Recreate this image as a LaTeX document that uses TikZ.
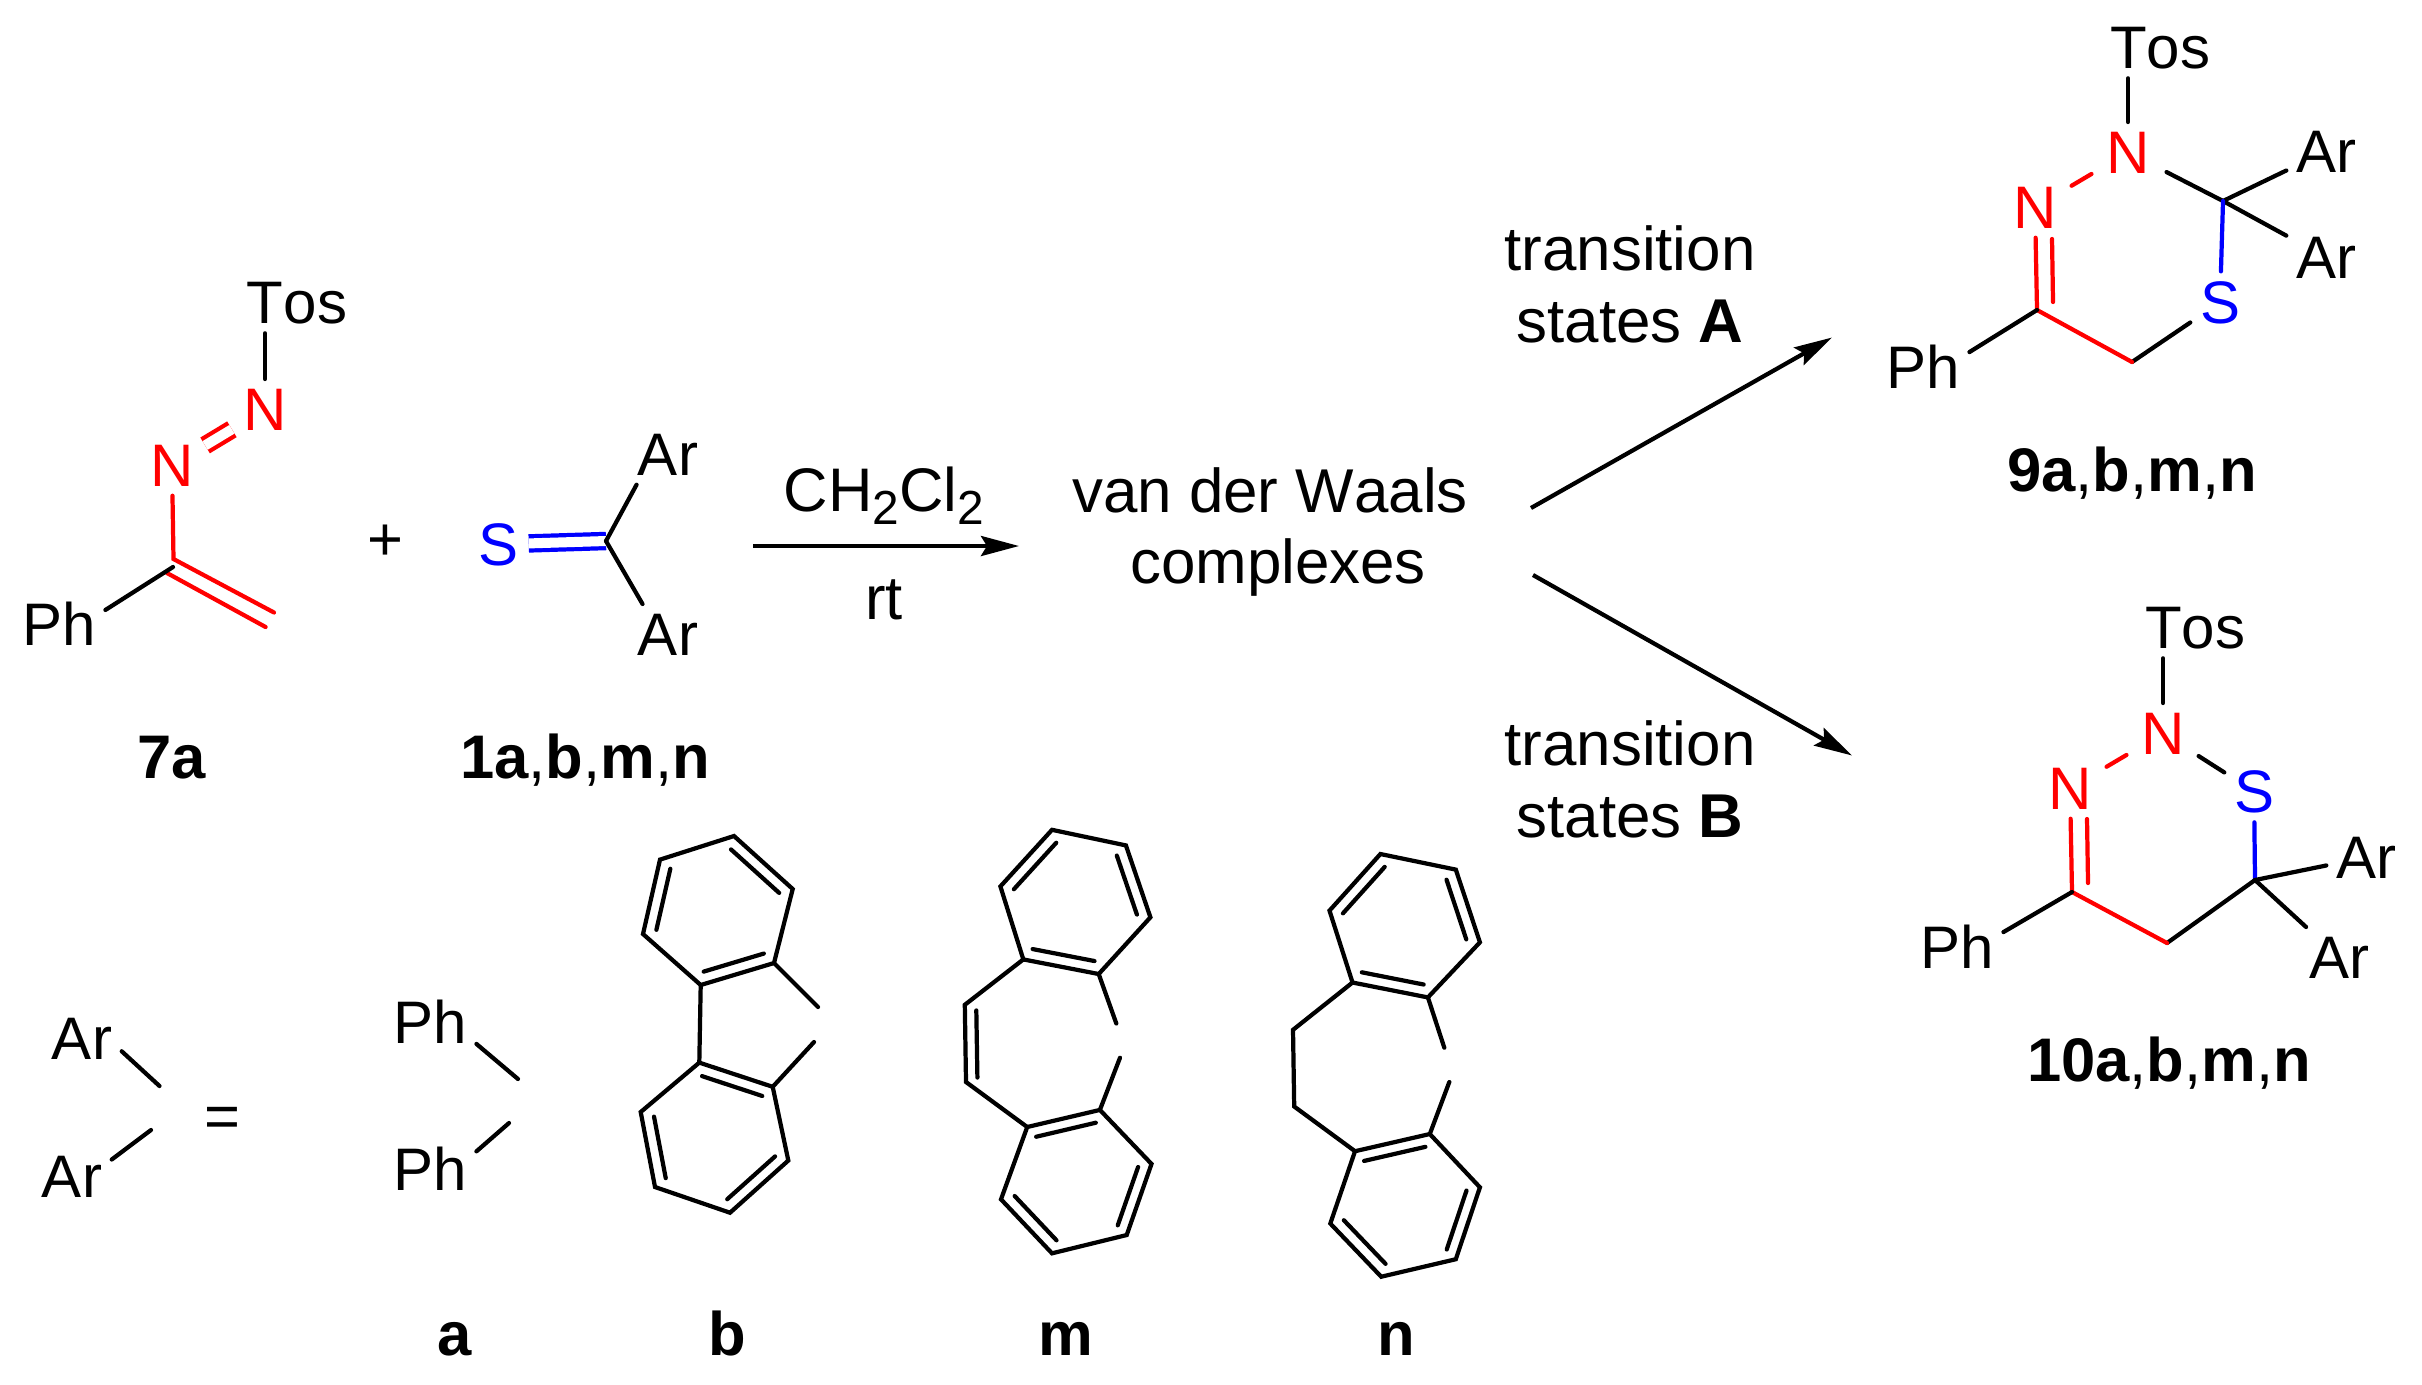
\documentclass[tikz,border=0pt]{standalone}
\usepackage{fontspec}
\setmainfont[Kerning=Off]{Liberation Sans}
\usetikzlibrary{positioning,calc,arrows.meta}
\definecolor{atomred}{RGB}{255,0,0}
\definecolor{atomblue}{RGB}{0,0,255}
\newcommand{\subnum}[1]{\raisebox{-0.13cm}{\fontsize{13.6}{13.6}\selectfont #1}}
\newcommand{\ringdbl}[3]{\draw[bond] ($(#1)!0.18!(#3)$) -- ($(#2)!0.18!(#3)$);}

\begin{document}
\begin{tikzpicture}[x=0.01cm, y=-0.01cm,
    atom/.style={inner sep=0.09cm, anchor=base, font=\fontsize{17.07}{20}\selectfont},
    redatom/.style={atom, text=atomred},
    blueatom/.style={atom, text=atomblue},
    caption/.style={inner sep=0pt, anchor=base, font=\fontsize{17.5}{20}\selectfont},
    remark/.style={inner sep=0pt, anchor=base, font=\fontsize{17.6}{20}\selectfont},
    bond/.style={line width=1.2pt, line cap=round},
    redbond/.style={bond, draw=atomred},
    bluebond/.style={bond, draw=atomblue},
    pairbond/.style={line width=1.2pt, double, double distance=0.1cm},
    gap/.style={shorten <=0.06cm, shorten >=0.06cm},
    rxnarrow/.style={line width=1.2pt, -{Stealth[length=0.38cm, width=0.2cm, inset=0.06cm]}}]
    \useasboundingbox (0,0) rectangle (2422,1384);

    \node[atom] (tos7) at (297,323) {Tos};
    \node[redatom] (na7) at (265,430) {N};
    \node[redatom] (nb7) at (172,486) {N};
    \node[atom] (ph7) at (59,645) {Ph};
    \coordinate (c7) at (173,567);
    \coordinate (c7top) at (173.5,559);
    \coordinate (ch7a) at (274,612.5);
    \coordinate (ch7b) at (167,573);
    \coordinate (ch7c) at (265.6,627);
    \draw[bond] (na7) -- (na7 |- tos7.south);
    \draw[pairbond, draw=atomred, shorten <=0.02cm, shorten >=0.02cm] (nb7) -- (na7);
    \draw[redbond] (nb7) -- (c7top) -- (ch7a);
    \draw[redbond] (ch7b) -- (ch7c);
    \draw[bond] (c7) -- (ph7.16);
    \node[caption] (lab7) at (172,778) {\textbf{7a}};

    \node[caption] (plus) at (385,560) {+};

    \node[blueatom] (s1) at (499,565) {S};
    \node[atom] (ara1) at (668,475) {Ar};
    \node[atom] (arb1) at (668,655) {Ar};
    \coordinate (c1) at (606,541);
    \draw[pairbond, draw=atomblue] (s1) -- (c1);
    \draw[bond] (c1) -- (ara1.224);
    \draw[bond] (c1) -- (arb1.130);
    \node[caption] (lab1) at (585,778) {\textbf{1a},\textbf{b},\textbf{m},\textbf{n}};

    \coordinate (arrow1a) at (753,546);
    \coordinate (arrow1b) at (1019,546);
    \draw[rxnarrow] (arrow1a) -- (arrow1b);
    \node[caption] (solvent) at (884,511) {CH\subnum{2}Cl\subnum{2}};
    \node[caption] (temp) at (884,619) {rt};

    \node[remark] (vdw) at (1270,512.5) {van der Waals};
    \node[remark, below=0.71cm of vdw.base, anchor=base, xshift=0.08cm] (complexes) {complexes};

    \coordinate (arrow2a) at (1531,508);
    \coordinate (arrow2b) at (1832,337.5);
    \coordinate (arrow3a) at (1533,575);
    \coordinate (arrow3b) at (1852,755.5);
    \draw[rxnarrow] (arrow2a) -- (arrow2b);
    \draw[rxnarrow] (arrow3a) -- (arrow3b);

    \node[remark] (transa) at (1630,270.5) {transition};
    \node[remark, below=0.72cm of transa.base, anchor=base] (statesa) {states \textbf{A}};
    \node[remark] (transb) at (1630,765.5) {transition};
    \node[remark, below=0.72cm of transb.base, anchor=base] (statesb) {states \textbf{B}};

    \node[atom] (tos9) at (2160,68) {Tos};
    \node[redatom] (na9) at (2128,173) {N};
    \node[redatom] (nb9) at (2035,228) {N};
    \node[blueatom] (s9) at (2220,323) {S};
    \node[atom] (ara9) at (2326,172) {Ar};
    \node[atom] (arb9) at (2326,278) {Ar};
    \node[atom] (ph9) at (1923,388) {Ph};
    \coordinate (cq9) at (2223,201);
    \coordinate (ch9) at (2132,362);
    \coordinate (cn9) at (2037,310);
    \coordinate (dba9) at (2052,239);
    \coordinate (dbb9) at (2053,302);
    \draw[bond] (na9) -- (na9 |- tos9.south);
    \draw[redbond, gap] (nb9) -- (na9);
    \draw[bond, shorten <=0.08cm] (na9) -- (cq9);
    \draw[bond] (cq9) -- (ara9);
    \draw[bond] (cq9) -- (arb9);
    \draw[bluebond] (cq9) -- (s9);
    \draw[bond] (s9) -- (ch9);
    \draw[redbond] (ch9) -- (cn9) -- (nb9);
    \draw[redbond] (dba9) -- (dbb9);
    \draw[bond] (cn9) -- (ph9.17);
    \node[caption] (lab9) at (2132,491) {\textbf{9a},\textbf{b},\textbf{m},\textbf{n}};

    \node[atom] (tos10) at (2195,648) {Tos};
    \node[redatom] (na10) at (2163,754) {N};
    \node[redatom] (nb10) at (2070,809) {N};
    \node[blueatom] (s10) at (2254,812) {S};
    \node[atom] (ara10) at (2366,878) {Ar};
    \node[atom] (arb10) at (2339,978) {Ar};
    \node[atom] (ph10) at (1957,968) {Ph};
    \coordinate (cq10) at (2255,880);
    \coordinate (ch10) at (2167,943);
    \coordinate (cn10) at (2072,892);
    \coordinate (dba10) at (2087,819);
    \coordinate (dbb10) at (2088,883);
    \draw[bond] (na10) -- (na10 |- tos10.south);
    \draw[redbond, gap] (nb10) -- (na10);
    \draw[bond, shorten <=0.05cm] (na10) -- (s10);
    \draw[bluebond] (s10) -- (cq10);
    \draw[bond] (cq10) -- (ara10);
    \draw[bond] (cq10) -- (arb10);
    \draw[bond] (cq10) -- (ch10);
    \draw[redbond] (ch10) -- (cn10) -- (nb10);
    \draw[redbond] (dba10) -- (dbb10);
    \draw[bond] (cn10) -- (ph10.17);
    \node[caption] (lab10) at (2169,1081) {\textbf{10a},\textbf{b},\textbf{m},\textbf{n}};

    \node[atom] (arx) at (82,1059) {Ar};
    \node[atom] (ary) at (72,1197) {Ar};
    \coordinate (endx) at (159.5,1086);
    \coordinate (endy) at (151,1130);
    \draw[bond] (arx.-18) -- (endx);
    \draw[bond] (ary.23) -- (endy);
    \node[caption] (equals) at (222,1137) {=};

    \node[atom] (phx) at (430,1043) {Ph};
    \node[atom] (phy) at (430,1190) {Ph};
    \coordinate (endp) at (518,1079);
    \coordinate (endq) at (509,1123);
    \draw[bond] (phx.-26) -- (endp);
    \draw[bond] (phy.20) -- (endq);
    \node[caption] (laba) at (455,1355) {\textbf{a}};

    \foreach \cname/\cx/\cy in {
        bu1/734/836, bu2/792.7/889, bu3/774/963, bu4/700.7/985, bu5/643/934, bu6/660/859.6,
        bl1/699.3/1062.6, bl2/772.7/1086.8, bl3/788.3/1160.5, bl4/730/1212.7, bl5/655/1187, bl6/640.7/1112,
        mu1/1052/829.8, mu2/1125.9/845.4, mu3/1150.4/917.3, mu4/1098.7/974, mu5/1023.3/959.4, mu6/1000.4/886.4,
        ml1/1027.2/1127, ml2/1099.9/1109.9, ml3/1151.5/1163.9, ml4/1126.7/1235, ml5/1052/1253.3, ml6/1001/1199.3,
        nu1/1380.4/854, nu2/1455.8/869.6, nu3/1479.9/942.3, nu4/1427.9/997.4, nu5/1352.5/982.5, nu6/1329.5/910.6,
        nl1/1355/1151.2, nl2/1429.8/1134, nl3/1479.9/1187.3, nl4/1455.8/1259.2, nl5/1381.2/1276.7, nl6/1330.3/1223.5}
        \coordinate (\cname) at (\cx,\cy);
    \foreach \r in {bu,bl,mu,ml,nu,nl} {
        \coordinate (\r0) at ($(\r1)!0.5!(\r4)$);
        \draw[bond] (\r1) -- (\r2) -- (\r3) -- (\r4) -- (\r5) -- (\r6) -- cycle;
    }
    \foreach \r in {bu,bl,ml,nl} {
        \foreach \p/\q in {1/2,3/4,5/6} {
            \ringdbl{\r\p}{\r\q}{\r0}
        }
    }
    \foreach \r in {mu,nu} {
        \foreach \p/\q in {2/3,4/5,6/1} {
            \ringdbl{\r\p}{\r\q}{\r0}
        }
    }

    \coordinate (endb1) at (818,1007);
    \coordinate (endb2) at (814,1042);
    \draw[bond] (bu3) -- (endb1);
    \draw[bond] (bl2) -- (endb2);
    \draw[bond] (bu4) -- (bl1);
    \node[caption] (labb) at (727,1355) {\textbf{b}};

    \coordinate (endm1) at (1116.3,1023.5);
    \coordinate (endm2) at (1120,1057.7);
    \coordinate (mv1) at (964.8,1004.8);
    \coordinate (mv2) at (966,1082);
    \coordinate (mw1) at (976.3,1010.4);
    \coordinate (mw2) at (977.4,1077.5);
    \draw[bond] (mu4) -- (endm1);
    \draw[bond] (ml2) -- (endm2);
    \draw[bond] (mu5) -- (mv1) -- (mv2) -- (ml1);
    \draw[bond] (mw1) -- (mw2);
    \node[caption] (labm) at (1066,1355) {\textbf{m}};

    \coordinate (endn1) at (1444.3,1047.7);
    \coordinate (endn2) at (1449.3,1082);
    \coordinate (nv1) at (1293,1029.8);
    \coordinate (nv2) at (1294.2,1106.5);
    \draw[bond] (nu4) -- (endn1);
    \draw[bond] (nl2) -- (endn2);
    \draw[bond] (nu5) -- (nv1) -- (nv2) -- (nl1);
    \node[caption] (labn) at (1396,1355) {\textbf{n}};
\end{tikzpicture}
\end{document}
